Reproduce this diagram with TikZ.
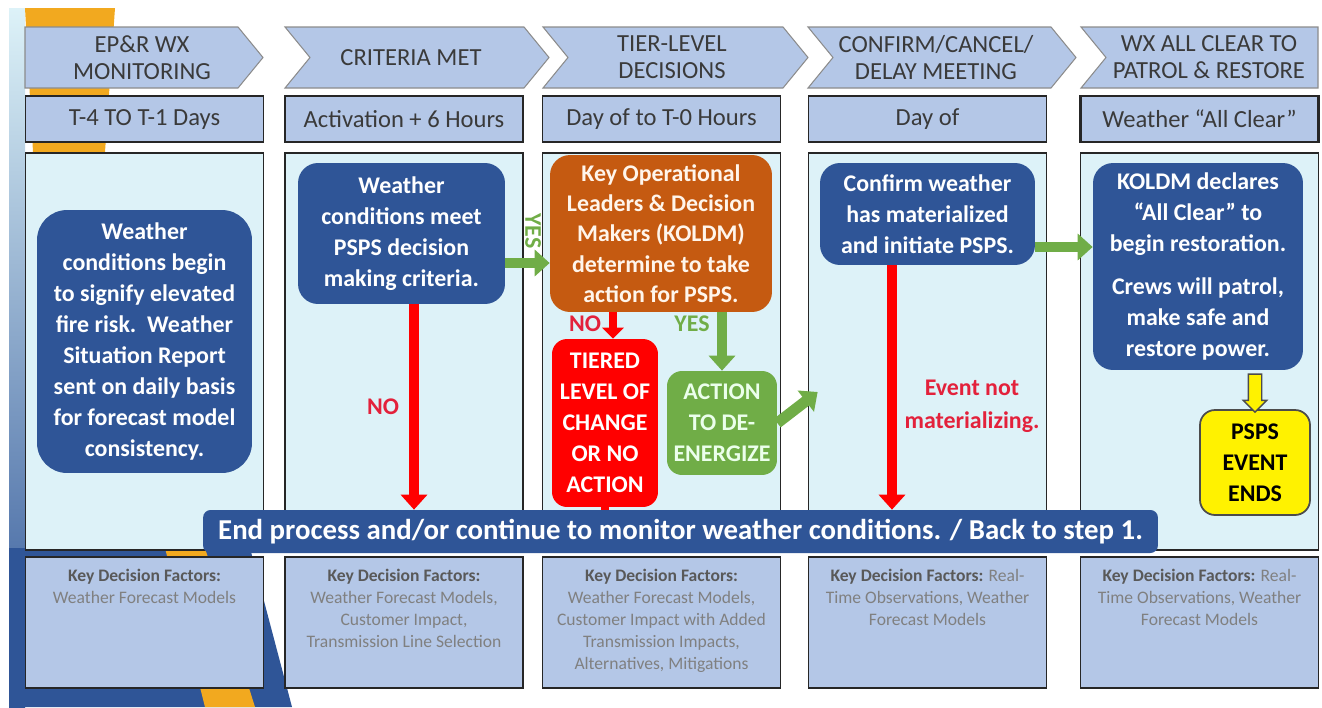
\documentclass[tikz,border=0pt]{standalone}
\usepackage{fontspec}
\setmainfont{Carlito}
\usetikzlibrary{arrows.meta,calc,shapes.arrows}

\definecolor{hdrblue}{HTML}{B4C7E7}
\definecolor{panelcyan}{HTML}{DDF2F8}
\definecolor{boxblue}{HTML}{2F5597}
\definecolor{koldmorange}{HTML}{C55A11}
\definecolor{actgreen}{HTML}{70AD47}
\definecolor{stopred}{HTML}{FF0000}
\definecolor{labelred}{HTML}{E3213B}
\definecolor{edgegrey}{HTML}{262626}
\definecolor{stripeorange}{HTML}{F2A91F}
\definecolor{factgrey}{HTML}{808080}
\definecolor{factdark}{HTML}{595959}
\definecolor{hdrtext}{HTML}{3A3A3A}

\tikzset{
  chev/.style={fill=hdrblue, draw=black!45, line width=0.6pt},
  chevtext/.style={text=hdrtext, font=\fontsize{14}{15.4}\selectfont, align=center, inner sep=0pt},
  timebox/.style={fill=hdrblue, draw=edgegrey, line width=1pt, minimum width=4.76cm, minimum height=0.92cm, text=hdrtext, font=\fontsize{14}{16}\selectfont},
  panel/.style={fill=panelcyan, draw=edgegrey, line width=1pt, minimum width=4.76cm, minimum height=7.94cm},
  factbox/.style={fill=hdrblue, draw=edgegrey, line width=1pt, minimum width=4.76cm, minimum height=2.62cm},
  facttext/.style={text=factgrey, font=\fontsize{10}{12.5}\selectfont, align=center, anchor=north, inner sep=0pt},
  stepbox/.style={rounded corners=0.4cm, fill=boxblue, text=white, font=\bfseries\fontsize{13.6}{17.6}\selectfont, align=center, inner sep=0pt},
  redflow/.style={draw=stopred, line width=0.2cm, -{Triangle[width=0.52cm,length=0.3cm]}},
  greenflow/.style={draw=actgreen, line width=0.2cm, -{Triangle[width=0.52cm,length=0.3cm]}},
  redlabel/.style={text=labelred, font=\bfseries\fontsize{13.6}{18.7}\selectfont, align=center},
  greenlabel/.style={text=actgreen, font=\bfseries\fontsize{13.6}{16}\selectfont}
}

\begin{document}
\begin{tikzpicture}[x=0.02cm, y=-0.02cm]
\useasboundingbox (0,0) rectangle (1322,707);

% slide template down the left edge
\shade[top color=panelcyan, bottom color=boxblue] (9,8) rectangle (25,707);
\fill[boxblue] (9,548) -- (250,548) -- (292,707) -- (9,707) -- cycle;
\fill[stripeorange] (25,8) -- (115,8) -- (105,152) -- (33,152) -- cycle;
\fill[stripeorange] (165,548) -- (205,548) -- (255,707) -- (205,707) -- cycle;

% header chevrons
\draw[chev] (25,27) -- (238,27) -- (263,57.5) -- (238,88) -- (25,88) -- cycle;
\draw[chev] (285,27) -- (524,27) -- (549,57.5) -- (524,88) -- (285,88) -- (310,57.5) -- cycle;
\draw[chev] (543,27) -- (783,27) -- (808,57.5) -- (783,88) -- (543,88) -- (568,57.5) -- cycle;
\draw[chev] (808,27) -- (1051,27) -- (1076,57.5) -- (1051,88) -- (808,88) -- (833,57.5) -- cycle;
\draw[chev] (1081,27) -- (1318,27) -- (1318,88) -- (1081,88) -- (1106,57.5) -- cycle;

\node[chevtext] (hdrA) at (142,57.5) {EP\&R WX\\MONITORING};
\node[chevtext] (hdrB) at (411,57.5) {CRITERIA MET};
\node[chevtext] (hdrC) at (672,57.5) {TIER-LEVEL\\DECISIONS};
\node[chevtext] (hdrD) at (936,57.5) {CONFIRM/CANCEL/\\DELAY MEETING};
\node[chevtext] (hdrE) at (1209,57.5) {WX ALL CLEAR TO\\PATROL \& RESTORE};

% time frames
\node[timebox] (timeA) at (144.5,119) {T-4 TO T-1 Days};
\node[timebox] (timeB) at (404,119) {Activation + 6 Hours};
\node[timebox] (timeC) at (661.5,119) {Day of to T-0 Hours};
\node[timebox] (timeD) at (927.5,119) {Day of};
\node[timebox, line width=1.5pt] (timeE) at (1199.5,119) {Weather “All Clear”};

% column panels
\node[panel] (panA) at (144.5,351.5) {};
\node[panel] (panB) at (404,351.5) {};
\node[panel] (panC) at (661.5,351.5) {};
\node[panel] (panD) at (927.5,351.5) {};
\node[panel] (panE) at (1199.5,351.5) {};

% key decision factors
\node[factbox] (factA) at (144.5,622.5) {};
\node[factbox] (factB) at (404,622.5) {};
\node[factbox] (factC) at (661.5,622.5) {};
\node[factbox] (factD) at (927.5,622.5) {};
\node[factbox] (factE) at (1199.5,622.5) {};
\node[facttext] (factAtxt) at (144.5,569) {\textcolor{factdark}{\bfseries Key Decision Factors:}\\Weather Forecast Models};
\node[facttext] (factBtxt) at (404,569) {\textcolor{factdark}{\bfseries Key Decision Factors:}\\Weather Forecast Models,\\Customer Impact,\\Transmission Line Selection};
\node[facttext] (factCtxt) at (661.5,569) {\textcolor{factdark}{\bfseries Key Decision Factors:}\\Weather Forecast Models,\\Customer Impact with Added\\Transmission Impacts,\\Alternatives, Mitigations};
\node[facttext] (factDtxt) at (927.5,569) {\textcolor{factdark}{\bfseries Key Decision Factors:} Real-\\Time Observations, Weather\\Forecast Models};
\node[facttext] (factEtxt) at (1199.5,569) {\textcolor{factdark}{\bfseries Key Decision Factors:} Real-\\Time Observations, Weather\\Forecast Models};

% process steps
\node[stepbox, rounded corners=0.6cm, minimum width=4.3cm, minimum height=5.26cm] (wx) at (144.5,341.5)
  {Weather\\conditions begin\\to signify elevated\\fire risk.\ \ Weather\\Situation Report\\sent on daily basis\\for forecast model\\consistency.};
\node[stepbox, minimum width=4.14cm, minimum height=2.82cm] (crit) at (401.5,233.5)
  {Weather\\conditions meet\\PSPS decision\\making criteria.};
\node[stepbox, fill=koldmorange, text=white!92!orange, font=\bfseries\fontsize{13.6}{17.3}\selectfont, minimum width=4.44cm, minimum height=3.14cm] (koldm) at (661,233.5)
  {Key Operational\\Leaders \& Decision\\Makers (KOLDM)\\determine to take\\action for PSPS.};
\node[stepbox, fill=stopred, rounded corners=0.3cm, minimum width=2.12cm, minimum height=3.36cm] (tiered) at (605,423)
  {TIERED\\LEVEL OF\\CHANGE\\OR NO\\ACTION};
\node[stepbox, fill=actgreen, text=white!92!green, rounded corners=0.3cm, minimum width=2.2cm, minimum height=2.08cm] (deenergize) at (722,423)
  {ACTION\\TO DE-\\ENERGIZE};
\node[stepbox, minimum width=4.3cm, minimum height=2.04cm] (confirm) at (927.5,214)
  {Confirm weather\\has materialized\\and initiate PSPS.};
\node[stepbox, minimum width=4.2cm, minimum height=4.14cm] (allclear) at (1198,266.5)
  {KOLDM declares\\“All Clear” to\\begin restoration.\\[7pt]Crews will patrol,\\make safe and\\restore power.};
\node[stepbox, fill=yellow, draw=black!70, line width=1pt, text=black, rounded corners=0.3cm, minimum width=2.2cm, minimum height=2.1cm] (pspsend) at (1255,462.5)
  {PSPS\\EVENT\\ENDS};
\node[stepbox, rounded corners=0.15cm, font=\bfseries\fontsize{16.4}{18}\selectfont, minimum width=19.1cm, minimum height=0.86cm] (endbar) at (680.5,531.5)
  {End process and/or continue to monitor weather conditions. / Back to step 1.};

% decision arrows
\draw[greenflow] ($(crit.east)+(0,29.5)$) -- ($(koldm.west)+(0,29.5)$);
\draw[redflow] ($(crit.south)+(12.5,0)$) -- ($(crit.south |- endbar.north)+(12.5,0)$);
\draw[redflow, line width=0.16cm, -{Triangle[width=0.42cm,length=0.22cm]}] ($(koldm.south -| tiered.north)+(8,0)$) -- ($(tiered.north)+(8,0)$);
\draw[draw=stopred, line width=0.16cm] (tiered.south) -- (tiered.south |- endbar.north);
\draw[greenflow] (koldm.south -| deenergize.north) -- (deenergize.north);
\draw[greenflow, line width=0.22cm] (deenergize.east) -- ($(panD.west)+(10,40.5)$);
\draw[redflow] ($(confirm.south)+(-35.5,0)$) -- ($(confirm.south |- endbar.north)+(-35.5,0)$);
\draw[greenflow] ($(confirm.east)+(0,33)$) -- ($(allclear.west |- confirm.east)+(0,33)$);
\node[single arrow, draw=black!70, fill=yellow, line width=0.8pt, rotate=-90, inner sep=0.12cm, single arrow head extend=0.1cm, minimum height=0.76cm]
  (yarrow) at ($(allclear.south -| pspsend.north)!0.5!(pspsend.north)$) {};

% arrow labels
\node[redlabel] (noA) at (383,407) {NO};
\node[greenlabel, rotate=-90] (yesA) at (533,231) {YES};
\node[redlabel] (noB) at (585,324) {NO};
\node[greenlabel] (yesB) at (692,324) {YES};
\node[redlabel] (noC) at (972,406) {Event not\\materializing.};

\end{tikzpicture}
\end{document}
